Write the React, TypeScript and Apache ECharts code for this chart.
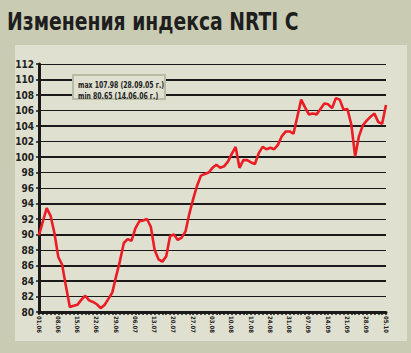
import React, { useEffect, useRef } from "react";
import * as echarts from "echarts";

const dates = (
  "01.06 02.06 05.06 06.06 07.06 08.06 09.06 12.06 13.06 14.06 15.06 16.06 19.06 20.06 21.06 22.06 23.06 26.06 27.06 28.06 29.06 30.06 " +
  "03.07 04.07 05.07 06.07 07.07 10.07 11.07 12.07 13.07 14.07 17.07 18.07 19.07 20.07 21.07 24.07 25.07 26.07 27.07 28.07 31.07 " +
  "01.08 02.08 03.08 04.08 07.08 08.08 09.08 10.08 11.08 14.08 15.08 16.08 17.08 18.08 21.08 22.08 23.08 24.08 25.08 28.08 29.08 30.08 31.08 " +
  "01.09 04.09 05.09 06.09 07.09 08.09 11.09 12.09 13.09 14.09 15.09 18.09 19.09 20.09 21.09 22.09 25.09 26.09 27.09 28.09 29.09 " +
  "02.10 03.10 04.10 05.10"
).split(" ");

const values = [
  89.9, 91.7, 93.4, 92.4, 90.2, 87.1, 86.1, 83.3, 80.65, 80.8,
  80.95, 81.6, 82.1, 81.5, 81.3, 81.0, 80.5, 80.9, 81.7, 82.5,
  84.6, 86.6, 88.9, 89.4, 89.2, 90.8, 91.7, 91.8, 92.0, 91.0,
  88.0, 86.8, 86.5, 87.2, 89.8, 90.0, 89.3, 89.6, 90.4, 92.7,
  94.6, 96.3, 97.6, 97.8, 98.0, 98.6, 99.0, 98.6, 98.8, 99.4,
  100.4, 101.3, 98.6, 99.6, 99.6, 99.3, 99.1, 100.5, 101.3, 101.0,
  101.2, 101.0, 101.6, 102.7, 103.3, 103.3, 103.0, 105.2, 107.4, 106.4,
  105.5, 105.6, 105.5, 106.2, 106.9, 106.8, 106.3, 107.6, 107.4, 106.1,
  106.2, 104.2, 100.1, 102.7, 104.1, 104.7, 105.2, 105.6, 104.5, 104.3,
  106.7,
];

const thickLines = [110, 108, 104, 100, 94, 90, 86, 84];
const titleText = "Изменения индекса NRTI C";
const noteLines = ["max 107.98 (28.09.05 г.)", "min 80.65 (14.06.06 г.)"];

const FONT = "'Liberation Sans Narrow', 'DejaVu Sans Condensed', sans-serif";

export default function App() {
  const ref = useRef<HTMLDivElement>(null);
  useEffect(() => {
    const chart = echarts.init(ref.current!, undefined, { renderer: "svg" });
    chart.setOption({
      animation: false,
      backgroundColor: "#c9cbb3",
      graphic: [
        {
          type: "rect",
          z: -10,
          silent: true,
          shape: { x: 15, y: 45, width: 392, height: 296 },
          style: { fill: "#dfe0d0" },
        },
        {
          type: "text",
          z: 101,
          silent: true,
          x: 7,
          y: 9,
          scaleX: 0.87,
          style: { text: titleText, font: `bold 24px ${FONT}`, fill: "#1e1e1e" },
        },
        {
          type: "rect",
          z: 100,
          silent: true,
          shape: { x: 73, y: 75, width: 92, height: 24 },
          style: { fill: "#dfe0d0", stroke: "#b9bca4", lineWidth: 2 },
        },
        {
          type: "text",
          z: 101,
          silent: true,
          x: 78,
          y: 80,
          scaleX: 0.72,
          style: { text: noteLines[0], font: `bold 9.5px ${FONT}`, fill: "#222" },
        },
        {
          type: "text",
          z: 101,
          silent: true,
          x: 78,
          y: 91,
          scaleX: 0.72,
          style: { text: noteLines[1], font: `bold 9.5px ${FONT}`, fill: "#222" },
        },
      ],
      grid: { left: 39, right: 25, top: 64, bottom: 41 },
      xAxis: {
        type: "category",
        data: dates,
        boundaryGap: false,
        axisLine: { lineStyle: { color: "#1a1a1a", width: 3 } },
        axisTick: { interval: 0, length: 3, lineStyle: { color: "#1a1a1a", width: 1.5 } },
        axisLabel: {
          interval: 4,
          rotate: -90,
          fontSize: 6,
          fontWeight: "bold",
          fontFamily: FONT,
          color: "#222",
          margin: 4,
        },
        splitLine: { show: false },
      },
      yAxis: {
        type: "value",
        min: 80,
        max: 112,
        interval: 2,
        axisLine: { show: true, lineStyle: { color: "#1a1a1a", width: 3 } },
        axisTick: { show: true, length: 3, lineStyle: { color: "#1a1a1a", width: 1.5 } },
        axisLabel: {
          fontSize: 10,
          fontWeight: "bold",
          fontFamily: FONT,
          color: "#222",
          margin: 5,
        },
        splitLine: { lineStyle: { color: "#1a1a1a", width: 1 } },
      },
      series: [
        {
          type: "line",
          data: [],
          z: 1,
          silent: true,
          markLine: {
            silent: true,
            symbol: "none",
            label: { show: false },
            lineStyle: { color: "#1a1a1a", width: 2, type: "solid" },
            data: thickLines.map((v) => ({ yAxis: v })),
          },
        },
        {
          type: "line",
          data: values,
          z: 5,
          symbol: "none",
          lineStyle: { color: "#ec1c24", width: 2.6 },
        },
      ],
    });
    return () => chart.dispose();
  }, []);
  return (
    <div
      ref={ref}
      style={{ position: "fixed", left: 0, top: 0, width: 411, height: 353 }}
    />
  );
}
